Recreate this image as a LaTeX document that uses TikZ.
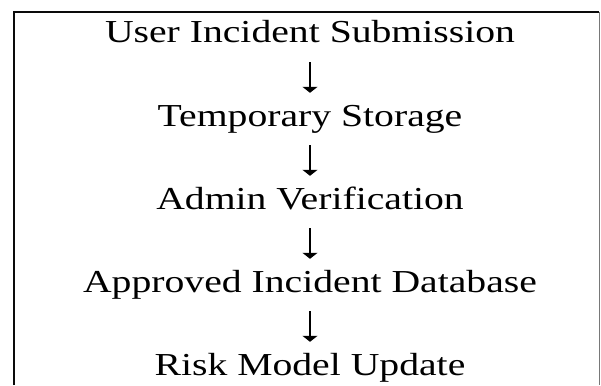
\documentclass[tikz,border=0pt]{standalone}
\usepackage{fontspec}
\setmainfont{Liberation Serif}[FakeStretch=1.24]
\usepackage{tikz}
\usetikzlibrary{arrows.meta,positioning}
\definecolor{frameblack}{RGB}{10,10,10}
\definecolor{framegray}{RGB}{120,120,120}
\tikzset{
  stage/.style={inner sep=0pt,text height=21pt,text depth=0pt,
    font=\fontsize{32}{38}\selectfont,anchor=base},
  flowarrow/.style={-{Triangle[width=15pt,length=6pt]},line width=1.1pt,
    shorten <=19pt,shorten >=12pt},
}

\begin{document}
\begin{tikzpicture}[x=1pt,y=-1pt]
\useasboundingbox (0,0) rectangle (601,385);
% frame (open at the bottom)
\draw[line width=2pt,color=frameblack](14,385)--(14,12.5)--(599,12.5);
\draw[line width=1pt,color=framegray](599,12.5)--(599,385);
% stages
\node[stage](user)at(310,43){User Incident Submission};
\node[stage](temp)at(310,126){Temporary Storage};
\node[stage](admin)at(310,209){Admin Verification};
\node[stage](approved)at(310,292){Approved Incident Database};
\node[stage](risk)at(310,375){Risk Model Update};
% flow
\foreach \a/\b in {user/temp,temp/admin,admin/approved,approved/risk}
  \draw[flowarrow](\a.south)--(\b.north);
\end{tikzpicture}
\end{document}
